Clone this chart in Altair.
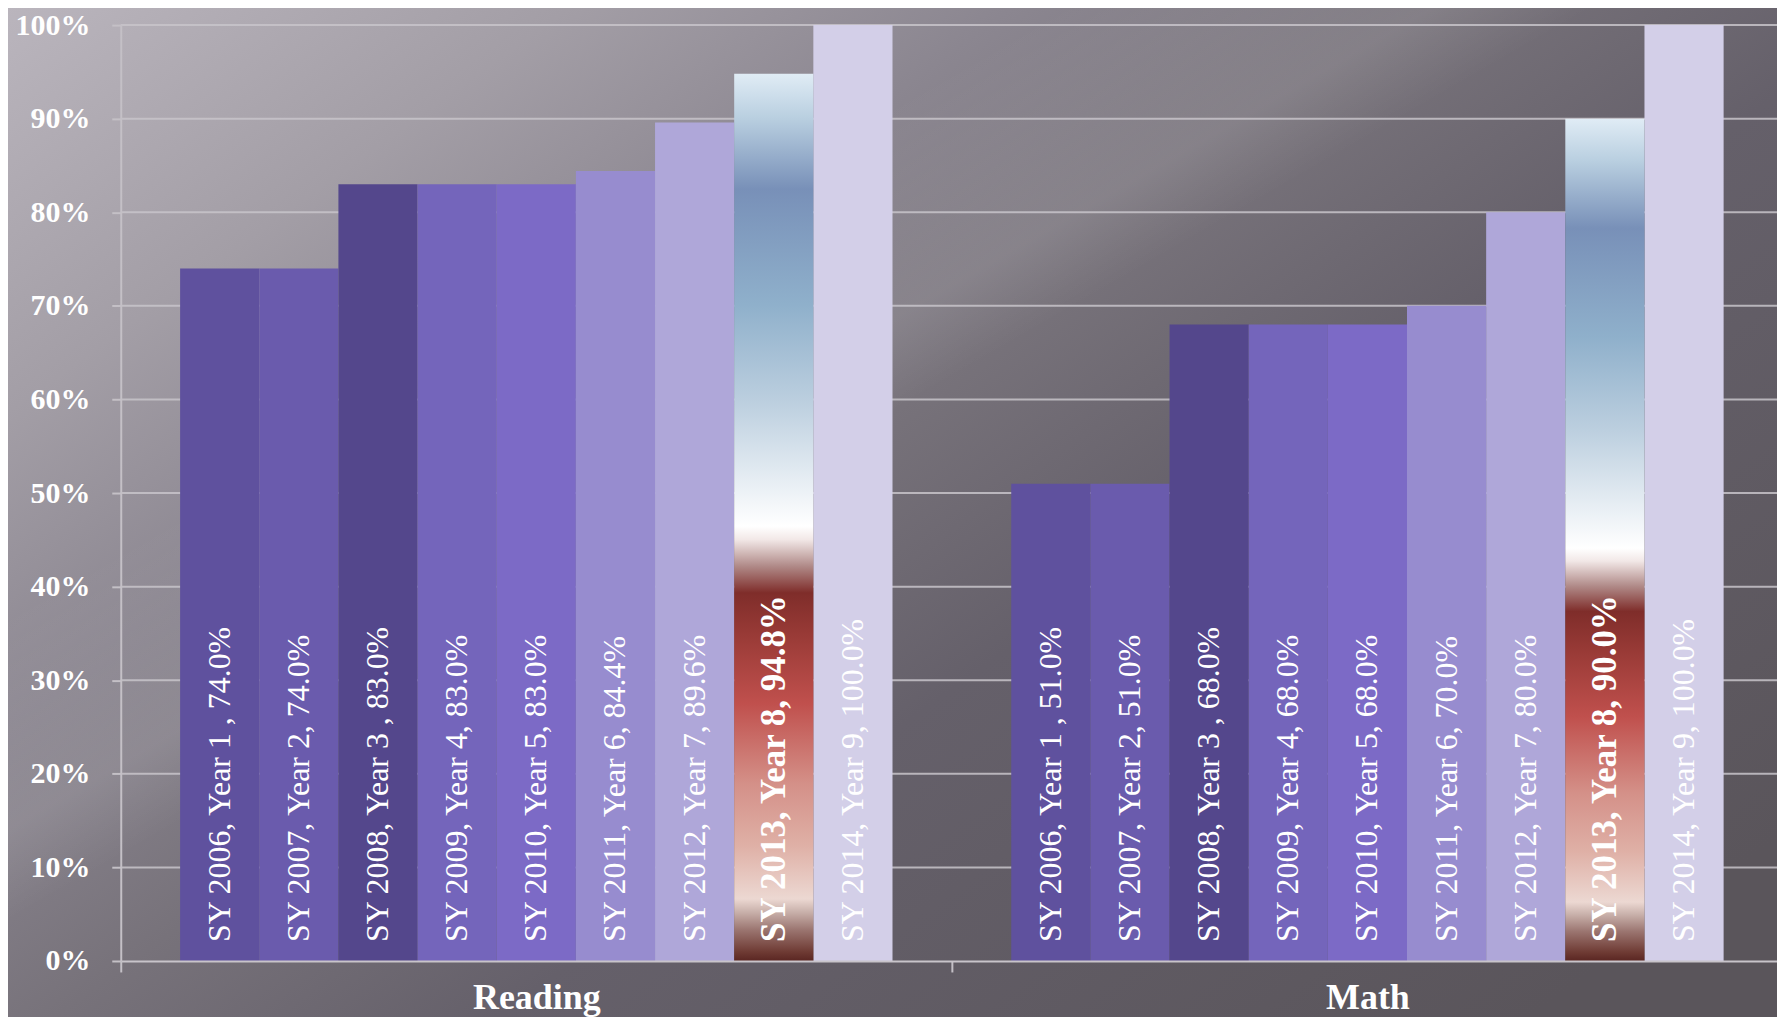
import altair as alt
import pandas as pd

# ---------------- data ----------------
subjects = ["Reading", "Math"]
years = ["SY 2006", "SY 2007", "SY 2008", "SY 2009", "SY 2010",
         "SY 2011", "SY 2012", "SY 2013", "SY 2014"]
reading_values = [74.0, 74.0, 83.0, 83.0, 83.0, 84.4, 89.6, 94.8, 100.0]
math_values = [51.0, 51.0, 68.0, 68.0, 68.0, 70.0, 80.0, 90.0, 100.0]
reading_labels = ["SY 2006, Year 1 , 74.0%", "SY 2007, Year 2, 74.0%",
                  "SY 2008, Year 3 , 83.0%", "SY 2009, Year 4, 83.0%",
                  "SY 2010, Year 5, 83.0%", "SY 2011, Year 6, 84.4%",
                  "SY 2012, Year 7, 89.6%", "SY 2013, Year 8, 94.8%",
                  "SY 2014, Year 9, 100.0%"]
math_labels = ["SY 2006, Year 1 , 51.0%", "SY 2007, Year 2, 51.0%",
               "SY 2008, Year 3 , 68.0%", "SY 2009, Year 4, 68.0%",
               "SY 2010, Year 5, 68.0%", "SY 2011, Year 6, 70.0%",
               "SY 2012, Year 7, 80.0%", "SY 2013, Year 8, 90.0%",
               "SY 2014, Year 9, 100.0%"]
y_ticks = [0, 10, 20, 30, 40, 50, 60, 70, 80, 90, 100]
highlight_year = "SY 2013"

# ---------------- styles ----------------
bar_colors = ["#5f519e", "#6a5bad", "#54478c", "#7465bb", "#7c6ac6",
              "#978ccf", "#afa7d9", "#c0504d", "#d3cfe8"]
SERIF = "Liberation Serif"

highlight_gradient = {
    "gradient": "linear", "x1": 0, "y1": 0, "x2": 0, "y2": 1,
    "stops": [
        {"offset": 0.00, "color": "#e0ecf5"},
        {"offset": 0.05, "color": "#b9cfe0"},
        {"offset": 0.13, "color": "#7890b8"},
        {"offset": 0.26, "color": "#8fb0cb"},
        {"offset": 0.37, "color": "#bccfdf"},
        {"offset": 0.51, "color": "#ffffff"},
        {"offset": 0.525, "color": "#f2e8e7"},
        {"offset": 0.555, "color": "#b08a88"},
        {"offset": 0.585, "color": "#7f2d2a"},
        {"offset": 0.635, "color": "#9a3b37"},
        {"offset": 0.71, "color": "#c0504d"},
        {"offset": 0.80, "color": "#d49088"},
        {"offset": 0.87, "color": "#dfb0a6"},
        {"offset": 0.93, "color": "#ecd8d2"},
        {"offset": 0.945, "color": "#c8b0aa"},
        {"offset": 0.965, "color": "#9b7570"},
        {"offset": 0.99, "color": "#6e3a33"},
        {"offset": 1.00, "color": "#5a2622"},
    ],
}

bg_gradient = {
    "gradient": "linear", "x1": 0, "y1": 0, "x2": 1, "y2": 0.8,
    "stops": [
        {"offset": 0.0, "color": "#bbb6be"},
        {"offset": 0.2, "color": "#a39ea6"},
        {"offset": 0.35, "color": "#8b8690"},
        {"offset": 0.5, "color": "#77727a"},
        {"offset": 0.65, "color": "#65606a"},
        {"offset": 1.0, "color": "#5a555b"},
    ],
}
streak_gradient = {
    "gradient": "linear", "x1": 0, "y1": 0, "x2": 1, "y2": 1,
    "stops": [
        {"offset": 0.0, "color": "rgba(255,255,255,0)"},
        {"offset": 0.30, "color": "rgba(255,255,255,0)"},
        {"offset": 0.37, "color": "rgba(255,255,255,0.06)"},
        {"offset": 0.405, "color": "rgba(255,255,255,0.09)"},
        {"offset": 0.45, "color": "rgba(255,255,255,0)"},
        {"offset": 1.0, "color": "rgba(255,255,255,0)"},
    ],
}

rows = []
for subj, vals, labs in [("Reading", reading_values, reading_labels),
                         ("Math", math_values, math_labels)]:
    for yr, v, lab in zip(years, vals, labs):
        rows.append({"subject": subj, "year": yr, "value": v, "label": lab})
df = pd.DataFrame(rows)

x_enc = alt.X("subject:N", sort=subjects,
              scale=alt.Scale(paddingInner=0, paddingOuter=0),
              axis=alt.Axis(title=None, labelAngle=0, labelColor="white",
                            labelFont=SERIF, labelFontSize=36,
                            labelFontWeight="bold", labelPadding=9,
                            tickBand="extent", tickSize=11, tickWidth=2,
                            tickColor="#c4c0c6", domainColor="#c8c4ca",
                            domainWidth=2, zindex=1))
xo_enc = alt.XOffset("year:N", sort=years,
                     scale=alt.Scale(domain=years, paddingInner=0,
                                     paddingOuter=0.75))
y_scale = alt.Scale(domain=[0, 100], nice=False)
y_axis = alt.Axis(title=None, values=y_ticks, labelExpr="datum.value + '%'",
                  grid=False, domainColor="#c4c0c6", domainWidth=2,
                  tickColor="#c4c0c6", tickWidth=2, tickSize=9,
                  labelPadding=22, labelColor="white", labelFont=SERIF,
                  labelFontSize=30, labelFontWeight="bold", zindex=1)

bg_df = pd.DataFrame({"a": [0]})
background = alt.Chart(bg_df).mark_rect(color=bg_gradient, clip=False).encode(
    x=alt.value(-125), x2=alt.value(1680), y=alt.value(-30), y2=alt.value(1010))
streak = alt.Chart(bg_df).mark_rect(color=streak_gradient, clip=False).encode(
    x=alt.value(-125), x2=alt.value(1680), y=alt.value(-30), y2=alt.value(1010))

grid = alt.Chart(pd.DataFrame({"tick": y_ticks[1:]})).mark_rule(
    color="#c8c4ca", strokeWidth=2, opacity=0.85
).encode(y=alt.Y("tick:Q", scale=y_scale, axis=y_axis))

base = alt.Chart(df).encode(x=x_enc, xOffset=xo_enc)

bars = base.transform_filter(alt.datum.year != highlight_year).mark_bar().encode(
    y=alt.Y("value:Q", scale=y_scale, axis=y_axis),
    color=alt.Color("year:N", scale=alt.Scale(domain=years, range=bar_colors),
                    legend=None),
)
hbar = base.transform_filter(alt.datum.year == highlight_year).mark_bar(
    color=highlight_gradient
).encode(y=alt.Y("value:Q", scale=y_scale, axis=y_axis))

labels = base.transform_filter(alt.datum.year != highlight_year).mark_text(
    angle=270, align="left", baseline="middle", dx=19,
    font=SERIF, fontSize=32, color="white"
).encode(y=alt.datum(0), text="label:N")

hlabels = base.transform_filter(alt.datum.year == highlight_year).mark_text(
    angle=270, align="left", baseline="middle", dx=19,
    font=SERIF, fontSize=35, fontWeight="bold", color="white"
).encode(y=alt.datum(0), text="label:N")

chart = alt.layer(background, streak, grid, bars, hbar, labels, hlabels).properties(
    width=1666, height=938,
    autosize=alt.AutoSizeParams(type="none"),
    padding={"left": 113, "top": 16, "right": -6, "bottom": 55},
    background="#6f6a72",
).configure_view(stroke=None)

chart.save("out.html", embed_options={"renderer": "svg", "actions": False})
